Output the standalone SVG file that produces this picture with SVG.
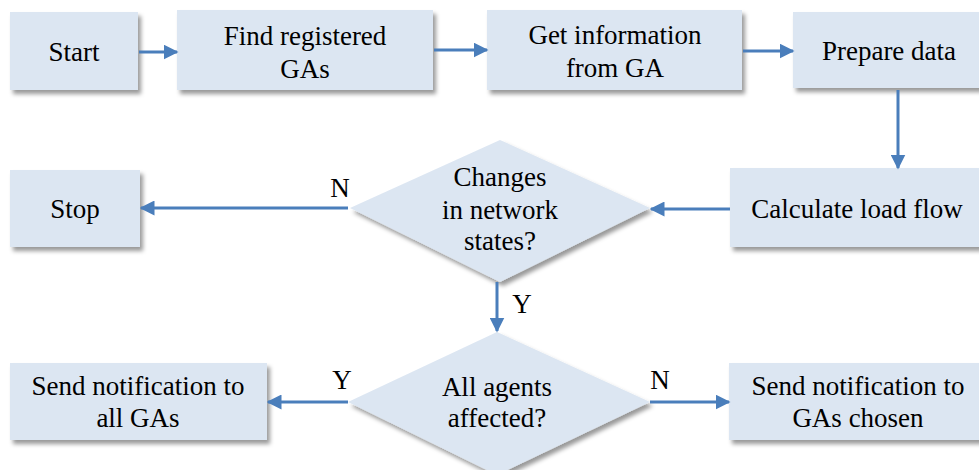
<svg xmlns="http://www.w3.org/2000/svg" width="979" height="470" viewBox="0 0 979 470">
<style>
.box{fill:#DCE6F2;filter:url(#sh)}
text{font-family:'Liberation Serif','Times New Roman',serif;font-size:27px;fill:#000;text-anchor:middle}
.c{stroke:#4A7EBB;stroke-width:3;fill:none;marker-end:url(#ah)}
</style>
<defs>
<filter id="sh" x="-10%" y="-10%" width="130%" height="130%">
<feDropShadow dx="3" dy="4" stdDeviation="2" flood-color="#000" flood-opacity="0.4"/>
</filter>
<marker id="ah" markerWidth="5" markerHeight="5" refX="4.5" refY="2.5" orient="auto" markerUnits="strokeWidth">
<path d="M0,0 L5,2.5 L0,5 Z" fill="#4A7EBB"/>
</marker>
</defs>
<g id="start"><rect class="box" x="10" y="12" width="128" height="78"/><text x="74" y="61">Start</text></g>
<g id="find"><rect class="box" x="177" y="10" width="256" height="80"/><text x="305" y="45">Find registered</text><text x="305" y="78">GAs</text></g>
<g id="getinfo"><rect class="box" x="487" y="10" width="255" height="80"/><text x="615" y="44">Get information</text><text x="615" y="77">from GA</text></g>
<g id="prepare"><rect class="box" x="793" y="12" width="192" height="76"/><text x="889" y="60">Prepare data</text></g>
<g id="calc"><rect class="box" x="730" y="168" width="256" height="79"/><text x="857" y="218">Calculate load flow</text></g>
<g id="changes"><polygon class="box" points="500,140 650,208 500,282 350,208"/><text x="500" y="186">Changes</text><text x="500" y="219">in network</text><text x="500" y="250">states?</text></g>
<g id="stop"><rect class="box" x="10" y="170" width="130" height="77"/><text x="75" y="218">Stop</text></g>
<g id="allagents"><polygon class="box" points="497,332 650,402 497,475 348,402"/><text x="497" y="396">All agents</text><text x="497" y="427">affected?</text></g>
<g id="sendall"><rect class="box" x="10" y="363" width="257" height="77"/><text x="138" y="395">Send notification to</text><text x="138" y="427">all GAs</text></g>
<g id="sendchosen"><rect class="box" x="729" y="363" width="258" height="77"/><text x="858" y="395">Send notification to</text><text x="858" y="427">GAs chosen</text></g>
<g id="connectors">
<line class="c" x1="139" y1="52" x2="177" y2="52"/>
<line class="c" x1="434" y1="50" x2="487" y2="50"/>
<line class="c" x1="743" y1="51" x2="793" y2="51"/>
<line class="c" x1="898" y1="90" x2="898" y2="168"/>
<line class="c" x1="730" y1="209" x2="651" y2="209"/>
<line class="c" x1="348" y1="208" x2="141" y2="208"/>
<line class="c" x1="497" y1="282" x2="497" y2="331"/>
<line class="c" x1="348" y1="402" x2="268" y2="402"/>
<line class="c" x1="650" y1="402" x2="729" y2="402"/>
<text x="340" y="197">N</text>
<text x="522" y="313">Y</text>
<text x="342" y="389">Y</text>
<text x="660" y="389">N</text>
</g>
</svg>
